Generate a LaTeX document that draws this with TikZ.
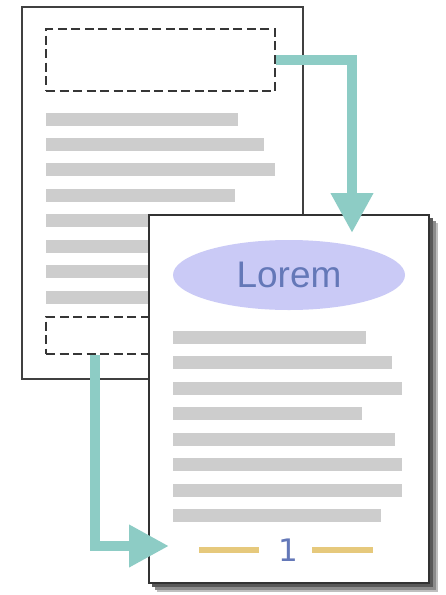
\documentclass[tikz,border=0pt]{standalone}
\usepackage{fontspec}
\setmainfont{Liberation Sans}
\newfontfamily\digitfont{DejaVu Sans}
\usetikzlibrary{arrows.meta,shapes.geometric}
\definecolor{pageline}{HTML}{404040}
\definecolor{dashline}{HTML}{363636}
\definecolor{barfill}{HTML}{CDCDCD}
\definecolor{arrowteal}{HTML}{8DCCC5}
\definecolor{ovalfill}{HTML}{CACAF6}
\definecolor{textblue}{HTML}{6478B8}
\definecolor{footgold}{HTML}{E6C97C}
\tikzset{
  page/.style={draw=pageline, line width=2.2pt, fill=white, rectangle, inner sep=0pt},
  dashbox/.style={draw=dashline, line width=2.3pt, dash pattern=on 9pt off 4.5pt, rectangle, inner sep=0pt},
  bar/.style={fill=barfill, draw=none},
  flow/.style={draw=arrowteal, line width=10pt, line join=miter,
    -{Triangle[width=40pt,length=40pt]}},
  footdash/.style={draw=footgold, line width=6pt},
}
\begin{document}
\begin{tikzpicture}[x=1pt,y=-1pt]
\useasboundingbox (0,0) rectangle (446,595);
\fill[white] (0,0) rectangle (446,595);
% back page
\node[page, minimum width=281pt, minimum height=372pt] (back) at (162.5,193) {};
\foreach \y/\r in {113/238,138/264,163/275,189/235,214/262,240/262,265/262,291/262}
  \fill[bar] (46,\y) rectangle (\r,\y+13);
\node[dashbox, minimum width=229pt, minimum height=62pt] (topbox) at (160.5,60) {};
\node[dashbox, minimum width=229pt, minimum height=37pt] (botbox) at (160.5,335.5) {};
% shadow of front page
\fill[black!25] (157,223) rectangle (438,592);
\fill[black!45] (155,221) rectangle (436,590);
\fill[black!65] (152,218) rectangle (433,587);
% front page
\node[page, draw=black!80, minimum width=280pt, minimum height=368pt] (front) at (289,399) {};
\node[ellipse, fill=ovalfill, minimum width=232pt, minimum height=70pt, inner sep=0pt,
  text=textblue, font=\fontsize{37}{37}\selectfont] (title) at (289,275) {Lorem};
\foreach \y/\r in {331/366,356/392,382/402,407/362,433/395,458/402,484/402,509/381}
  \fill[bar] (173,\y) rectangle (\r,\y+13);
\node[text=textblue, font=\digitfont\fontsize{31}{31}\selectfont, inner sep=0pt] (pnum) at (288,550) {1};
\coordinate (fl1) at (199,549.5);
\coordinate (fr1) at (259,549.5);
\coordinate (fl2) at (312,549.5);
\coordinate (fr2) at (373,549.5);
\draw[footdash] (fl1) -- (fr1);
\draw[footdash] (fl2) -- (fr2);
% connectors
\coordinate (tip1) at (352,233);
\coordinate (tip2) at (169,546);
\draw[flow] (topbox.east) -| (tip1);
\draw[flow] ([xshift=-65.5pt]botbox.south) |- (tip2);
\end{tikzpicture}
\end{document}
